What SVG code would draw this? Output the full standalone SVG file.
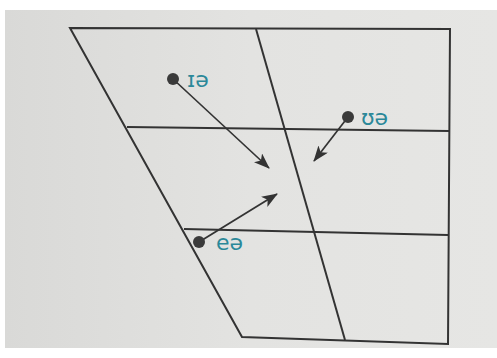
<svg xmlns="http://www.w3.org/2000/svg" width="497" height="358" viewBox="0 0 497 358">
<defs>
<linearGradient id="bg" x1="0" y1="0" x2="1" y2="0">
<stop offset="0" stop-color="#d9d9d7"/>
<stop offset="0.5" stop-color="#e3e3e1"/>
<stop offset="1" stop-color="#e6e6e4"/>
</linearGradient>
<marker id="ah" viewBox="0 0 16 12" refX="15" refY="6" markerWidth="16" markerHeight="12" markerUnits="userSpaceOnUse" orient="auto">
<path d="M0,0 L16,6 L0,12 L4,6 Z" fill="#333"/>
</marker>
<style>
.grid{stroke:#333;stroke-width:2;fill:none;stroke-linejoin:miter}
.arr{stroke:#333;stroke-width:1.7;fill:none;marker-end:url(#ah)}
.dot{fill:#3a3a3a}
.lbl{font-family:"DejaVu Sans",sans-serif;font-size:22px;fill:#2b8899}
</style>
</defs>
<rect width="497" height="358" fill="#ffffff"/>
<rect x="5" y="10" width="492" height="338" fill="url(#bg)"/>
<g id="chart">
<path class="grid" d="M70,28 L450,29 L448,344 L242,337 Z"/>
<path class="grid" d="M256,29 L345,340"/>
<path class="grid" d="M127,127 L449,131"/>
<path class="grid" d="M184,229 L448,235"/>
</g>
<g id="connectors">
<path class="arr" d="M173,79 L269,168"/>
<path class="arr" d="M348,117 L314,161"/>
<path class="arr" d="M199,242 L277,194"/>
</g>
<g id="node-ie">
<circle class="dot" cx="173" cy="79" r="6"/>
<text class="lbl" x="187" y="87">ɪə</text>
</g>
<g id="node-ue">
<circle class="dot" cx="348" cy="117" r="6"/>
<text class="lbl" x="361" y="125">ʊə</text>
</g>
<g id="node-ee">
<circle class="dot" cx="199" cy="242" r="6"/>
<text class="lbl" x="216" y="250">eə</text>
</g>
</svg>
